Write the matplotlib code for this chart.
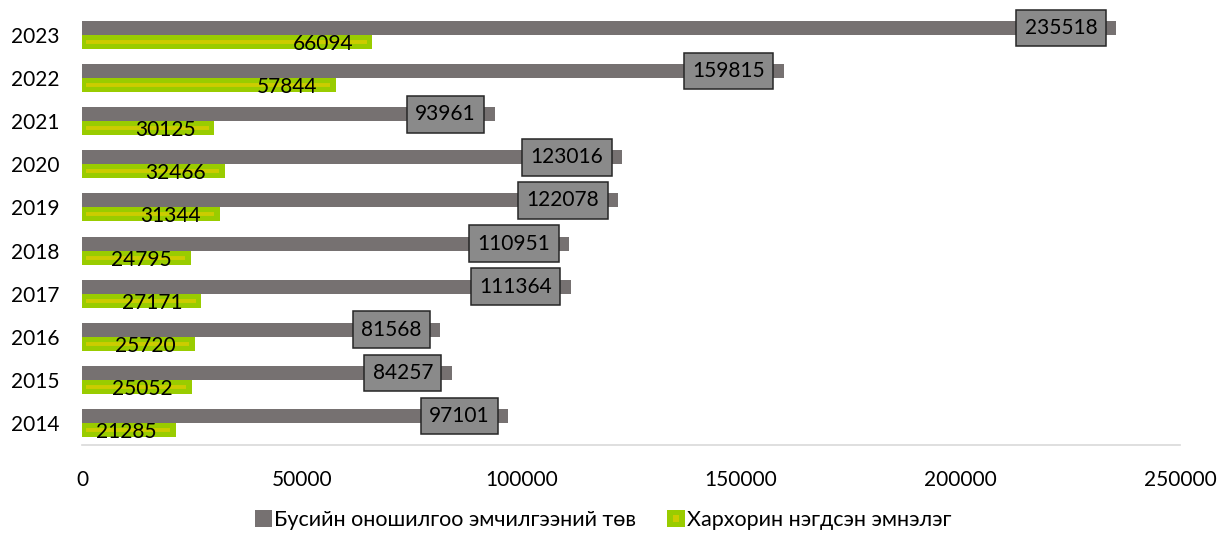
import matplotlib
matplotlib.use("Agg")
import matplotlib.pyplot as plt
from matplotlib.patches import Patch, Rectangle
from matplotlib.legend_handler import HandlerBase
from matplotlib.transforms import offset_copy

years = ["2014", "2015", "2016", "2017", "2018", "2019", "2020", "2021", "2022", "2023"]
busiin = [97101, 84257, 81568, 111364, 110951, 122078, 123016, 93961, 159815, 235518]
kharkhorin = [21285, 25052, 25720, 27171, 24795, 31344, 32466, 30125, 57844, 66094]
series_names = ["Бусийн оношилгоо эмчилгээний төв", "Хархорин нэгдсэн эмнэлэг"]
xticks = [0, 50000, 100000, 150000, 200000, 250000]

GRAY = "#767171"
GREEN = "#99CC00"
INNER = "#CCCC00"

plt.rcParams['font.family'] = ['Lato', 'Open Sans', 'DejaVu Sans']
FS = 15

fig = plt.figure(figsize=(12.17, 5.33), dpi=100)
ax = fig.add_axes([0.0674, 0.166, 0.9022, 0.8087])

h = 0.325
off = 0.163
ypos = list(range(len(years)))
ax.barh([y + off for y in ypos], busiin, height=h, color=GRAY, zorder=2)
ax.barh([y - off for y in ypos], kharkhorin, height=h, color=GREEN, zorder=2)
# inner yellow stripe on green bars
for y, v in zip(ypos, kharkhorin):
    ax.plot([1000, v - 1300], [y - off, y - off], color=INNER, lw=2.8,
            solid_capstyle='butt', zorder=3)

ax.set_xlim(0, 250000)
ax.set_ylim(-0.5, len(years) - 0.5)
ax.set_xticks(xticks)
ax.set_xticklabels([str(t) for t in xticks], fontsize=FS)
ax.set_yticks(ypos)
ax.set_yticklabels(years, fontsize=FS)
ax.tick_params(axis='both', length=0)
ax.tick_params(axis='x', pad=18)
ax.tick_params(axis='y', pad=16)
for s in ['top', 'right', 'left']:
    ax.spines[s].set_visible(False)
ax.spines['bottom'].set_color('#D9D9D9')
ax.spines['bottom'].set_linewidth(1.2)

# data labels
for y, v in zip(ypos, busiin):
    tr = offset_copy(ax.transData, fig=fig, x=-19, y=0, units='dots')
    ax.text(v, y + off, str(v), transform=tr, ha='right', va='center', fontsize=FS,
            color='black', zorder=5,
            bbox=dict(boxstyle='square,pad=0.4', facecolor='#8A8A8A',
                      edgecolor='#262626', linewidth=1.1))
for y, v in zip(ypos, kharkhorin):
    tr = offset_copy(ax.transData, fig=fig, x=-19, y=-2, units='dots')
    ax.text(v, y - off, str(v), transform=tr, ha='right', va='center', fontsize=FS,
            color='black', zorder=5)


class GreenHandler(HandlerBase):
    def create_artists(self, legend, orig_handle, xdescent, ydescent, width, height, fontsize, trans):
        s = height
        x0 = width - s
        r1 = Rectangle((x0 - xdescent, -ydescent), s, s, facecolor=GREEN, edgecolor='none', transform=trans)
        r2 = Rectangle((x0 - xdescent + s * 0.3, -ydescent + s * 0.3), s * 0.4, s * 0.4,
                       facecolor=INNER, edgecolor='none', transform=trans)
        return [r1, r2]


class GrayHandler(HandlerBase):
    def create_artists(self, legend, orig_handle, xdescent, ydescent, width, height, fontsize, trans):
        s = height
        x0 = width - s
        r1 = Rectangle((x0 - xdescent, -ydescent), s, s, facecolor=GRAY, edgecolor='none', transform=trans)
        return [r1]


h1 = Patch(color=GRAY)
h2 = Patch(color=GREEN)
fig.legend([h1, h2], series_names, loc='center', bbox_to_anchor=(0.495, 0.024),
           ncol=2, frameon=False, fontsize=15.5, handlelength=0.85, handleheight=0.85,
           handletextpad=0.1, columnspacing=1.4,
           handler_map={h1: GrayHandler(), h2: GreenHandler()})

fig.savefig("out.png", dpi=100)
